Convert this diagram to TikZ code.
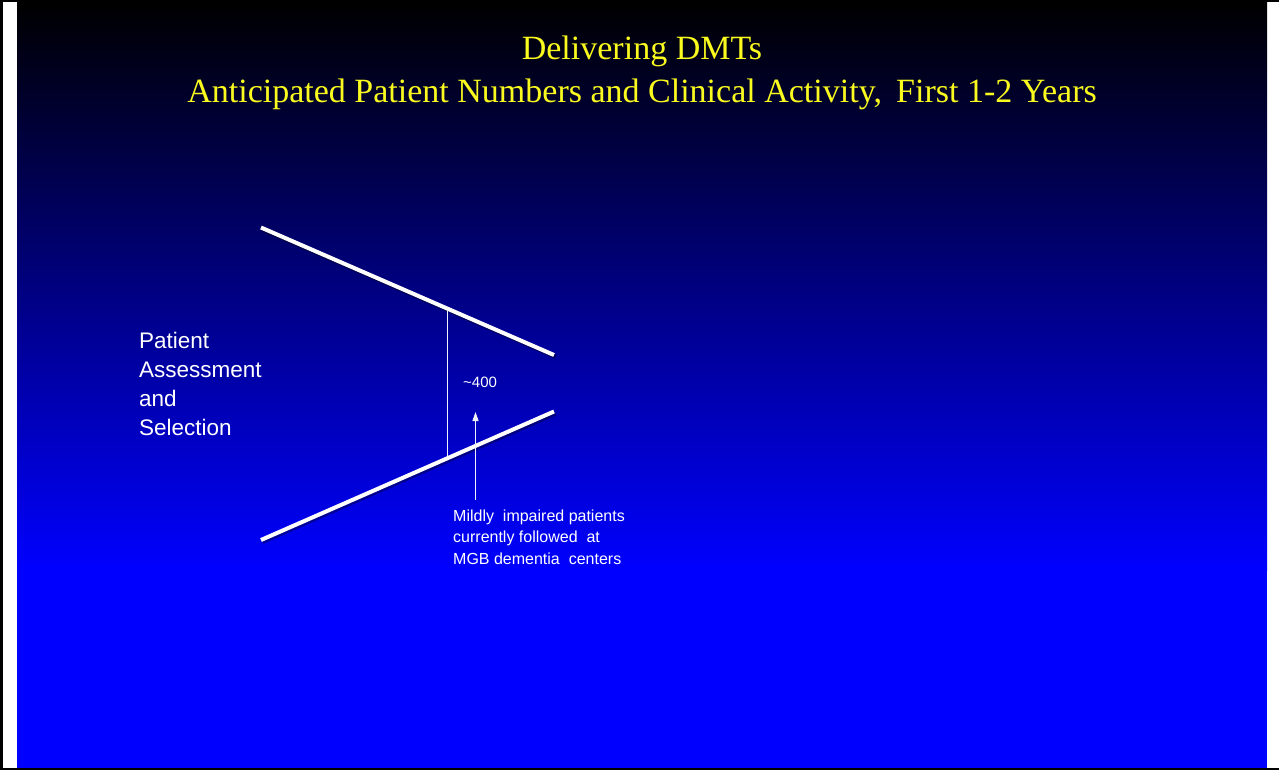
\documentclass[tikz,border=0pt]{standalone}
\usepackage{fontspec}
\setmainfont{Liberation Serif}
\newfontfamily\arialf{Liberation Sans}
\usetikzlibrary{calc,arrows.meta}
\definecolor{ttl}{RGB}{250,250,30}
\definecolor{txtw}{RGB}{240,240,250}
\begin{document}
\begin{tikzpicture}[x=1pt,y=-1pt,
  titletext/.style={text=ttl,inner sep=0pt,anchor=base,font=\fontsize{34}{40}\selectfont},
  bar/.style={draw=white,line width=4pt},
  barshadow/.style={draw=black,opacity=0.35,line width=4pt},
  hairline/.style={draw=txtw,line width=1pt},
  lbl/.style={text=white,inner sep=0pt,anchor=base west,align=left}
]
\useasboundingbox (0,0) rectangle (1279,770);
\fill[white] (0,0) rectangle (1279,770);
% slide background
\fill[top color=black, middle color=blue!78!black, bottom color=blue] (17,2) rectangle (1267,570);
\fill[blue] (17,569.5) rectangle (1267,768);
% outer frame
\fill[black] (0,0) rectangle (1279,2);
\fill[black] (0,0) rectangle (3,770);
\fill[black] (0,767.5) rectangle (1279,770);

% title
\node[titletext] (t1) at (642,60) {Delivering DMTs};
\node[titletext] (t2) at (642,103) {Anticipated Patient Numbers and Clinical Activity,\, First 1-2 Years};

% bars
\coordinate (ua) at (261,227.5);
\coordinate (ub) at (554,355);
\coordinate (la) at (261,540);
\coordinate (lb) at (554,411.5);
\draw[barshadow] ($(ua)+(1.5,2)$) -- ($(ub)+(1.5,2)$);
\draw[barshadow] ($(la)+(1.5,2)$) -- ($(lb)+(1.5,2)$);
\draw[bar] (ua) -- (ub);
\draw[bar] (la) -- (lb);

% vertical measure line
\coordinate (vu) at ($(ua)!0.635!(ub)+(0,2)$);
\coordinate (vl) at ($(la)!0.635!(lb)+(0,-2)$);
\draw[hairline] (vu) -- (vl);

% labels (base anchor of a multi-line node = baseline of its last line)
\node[lbl,font=\arialf\fontsize{22.5}{29}\selectfont] (pas) at (139,435) {Patient\\Assessment\\and\\Selection};
\node[lbl,font=\arialf\fontsize{15}{18}\selectfont] (n400) at (463,387) {\textasciitilde400};
\node[lbl,font=\arialf\fontsize{16}{21.3}\selectfont] (note) at (453,564) {Mildly\ \ impaired patients\\currently followed\ \ at\\MGB dementia\ \ centers};

% arrow
\coordinate (as) at (475.5,500);
\coordinate (at) at (475.5,412);
\draw[hairline,-{Triangle[length=9pt,width=6pt]}] (as) -- (at);
\end{tikzpicture}
\end{document}
